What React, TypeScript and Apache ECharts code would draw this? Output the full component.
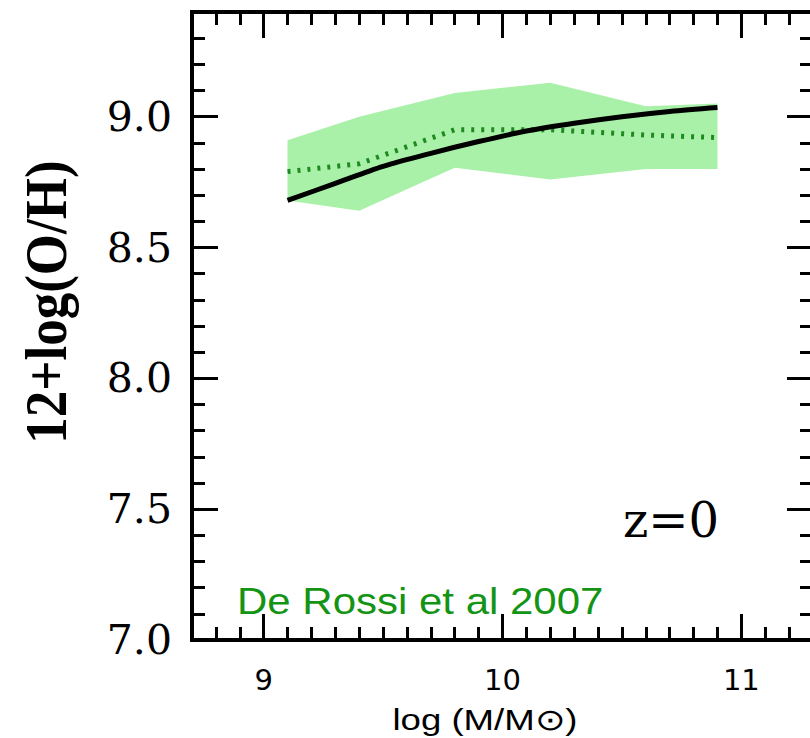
import React, { useEffect, useRef } from 'react';
import * as echarts from 'echarts';

// log(M/Msun) sampling points of the simulated relation
const massBins = [9.1, 9.4, 9.8, 10.2, 10.6, 10.9];
// 1-sigma envelope of the simulated galaxies
const bandUpper = [8.91, 9.0, 9.09, 9.13, 9.04, 9.05];
const bandLower = [8.68, 8.64, 8.805, 8.76, 8.8, 8.8];
// median of the simulated galaxies (dotted)
const medianOH = [8.79, 8.82, 8.95, 8.95, 8.93, 8.92];

// observed mass-metallicity fit (solid)
const fitMass = [9.1, 9.3, 9.5, 9.7, 9.9, 10.1, 10.3, 10.5, 10.7, 10.9];
const fitOH = [8.68, 8.745, 8.81, 8.86, 8.905, 8.945, 8.975, 9.0, 9.02, 9.035];

const xTickLabels = [9, 10, 11];
const yTickLabels = [7.0, 7.5, 8.0, 8.5, 9.0];

const X_MIN = 8.7;
const X_MAX = 11.3;
const Y_MIN = 7.0;
const Y_MAX = 9.4;

const BAND_GREEN = '#a9f1a9';
const DOT_GREEN = '#1f8a1f';
const TEXT_GREEN = '#149414';

export default function App() {
  const ref = useRef<HTMLDivElement>(null);

  useEffect(() => {
    const chart = echarts.init(ref.current as HTMLDivElement, null, { renderer: 'svg' });

    const frame = { color: '#000', width: 4, cap: 'square' };
    const tick = (length: number) => ({
      show: true,
      inside: true,
      length,
      lineStyle: { color: '#000', width: 3 },
    });
    const xBase = {
      type: 'value',
      min: X_MIN,
      max: X_MAX,
      splitLine: { show: false },
      axisLine: { show: true, onZero: false, lineStyle: frame },
    };
    const yBase = {
      type: 'value',
      min: Y_MIN,
      max: Y_MAX,
      splitLine: { show: false },
      axisLine: { show: true, onZero: false, lineStyle: frame },
    };

    chart.setOption({
      animation: false,
      backgroundColor: '#fff',
      grid: {
        left: 192,
        top: 12,
        width: 621,
        height: 628,
        containLabel: false,
        outerBoundsMode: 'none',
      },
      xAxis: [
        {
          ...xBase,
          position: 'bottom',
          axisTick: { ...tick(26), customValues: xTickLabels },
          axisLabel: {
            customValues: xTickLabels,
            formatter: (v: number) => String(v),
            margin: 40,
            verticalAlign: 'middle',
            fontSize: 29,
            fontFamily: 'DejaVu Sans',
            color: '#000',
          },
        },
        {
          ...xBase,
          position: 'bottom',
          interval: 0.1,
          axisTick: tick(13),
          axisLabel: { show: false },
        },
        {
          ...xBase,
          position: 'top',
          axisTick: { ...tick(26), customValues: xTickLabels },
          axisLabel: { show: false },
        },
        {
          ...xBase,
          position: 'top',
          interval: 0.1,
          axisTick: tick(13),
          axisLabel: { show: false },
        },
      ],
      yAxis: [
        {
          ...yBase,
          position: 'left',
          axisTick: { ...tick(26), customValues: yTickLabels },
          axisLabel: {
            customValues: yTickLabels,
            formatter: (v: number) => v.toFixed(1),
            margin: 20,
            fontSize: 41,
            fontFamily: 'DejaVu Serif',
            color: '#000',
          },
        },
        {
          ...yBase,
          position: 'left',
          interval: 0.1,
          axisTick: tick(13),
          axisLabel: { show: false },
        },
        {
          ...yBase,
          position: 'right',
          axisTick: { ...tick(26), customValues: yTickLabels },
          axisLabel: { show: false },
        },
        {
          ...yBase,
          position: 'right',
          interval: 0.1,
          axisTick: tick(13),
          axisLabel: { show: false },
        },
      ],
      series: [
        {
          type: 'custom',
          xAxisIndex: 0,
          yAxisIndex: 0,
          silent: true,
          z: 1,
          data: massBins.map((x, i) => [x, bandLower[i], bandUpper[i]]),
          encode: { x: 0, y: [1, 2] },
          renderItem: (params: any, api: any) => {
            if (params.dataIndex !== 0) return null;
            const top = massBins.map((x, i) => api.coord([x, bandUpper[i]]));
            const bottom = massBins.map((x, i) => api.coord([x, bandLower[i]])).reverse();
            return {
              type: 'polygon',
              shape: { points: top.concat(bottom) },
              style: { fill: BAND_GREEN },
            };
          },
        },
        {
          type: 'line',
          xAxisIndex: 0,
          yAxisIndex: 0,
          z: 2,
          symbol: 'none',
          silent: true,
          data: massBins.map((x, i) => [x, medianOH[i]]),
          lineStyle: { color: DOT_GREEN, width: 5, type: [3, 7], cap: 'butt' },
        },
        {
          type: 'line',
          xAxisIndex: 0,
          yAxisIndex: 0,
          z: 3,
          symbol: 'none',
          silent: true,
          smooth: 0.3,
          data: fitMass.map((x, i) => [x, fitOH[i]]),
          lineStyle: { color: '#000', width: 5 },
        },
      ],
      graphic: [
        {
          type: 'text',
          x: 46,
          y: 302,
          rotation: Math.PI / 2,
          scaleY: 1.12,
          style: {
            text: '12+log(O/H)',
            font: 'bold 53px "Liberation Serif"',
            fill: '#000',
            align: 'center',
            verticalAlign: 'middle',
          },
        },
        {
          type: 'text',
          x: 623,
          y: 520,
          style: {
            text: 'z=0',
            font: '48px "DejaVu Serif"',
            fill: '#000',
            align: 'left',
            verticalAlign: 'middle',
          },
        },
        {
          type: 'text',
          x: 237,
          y: 601,
          scaleX: 1.12,
          style: {
            text: 'De Rossi et al 2007',
            font: '37.5px "Liberation Sans"',
            fill: TEXT_GREEN,
            align: 'left',
            verticalAlign: 'middle',
          },
        },
        {
          type: 'text',
          x: 485,
          y: 720,
          scaleX: 1.22,
          style: {
            text: 'log (M/M⊙)',
            font: '30px "Liberation Sans"',
            fill: '#000',
            align: 'center',
            verticalAlign: 'middle',
          },
        },
      ],
    });

    return () => chart.dispose();
  }, []);

  return (
    <div
      ref={ref}
      style={{ position: 'absolute', left: 0, top: 0, width: 810, height: 738 }}
    />
  );
}
